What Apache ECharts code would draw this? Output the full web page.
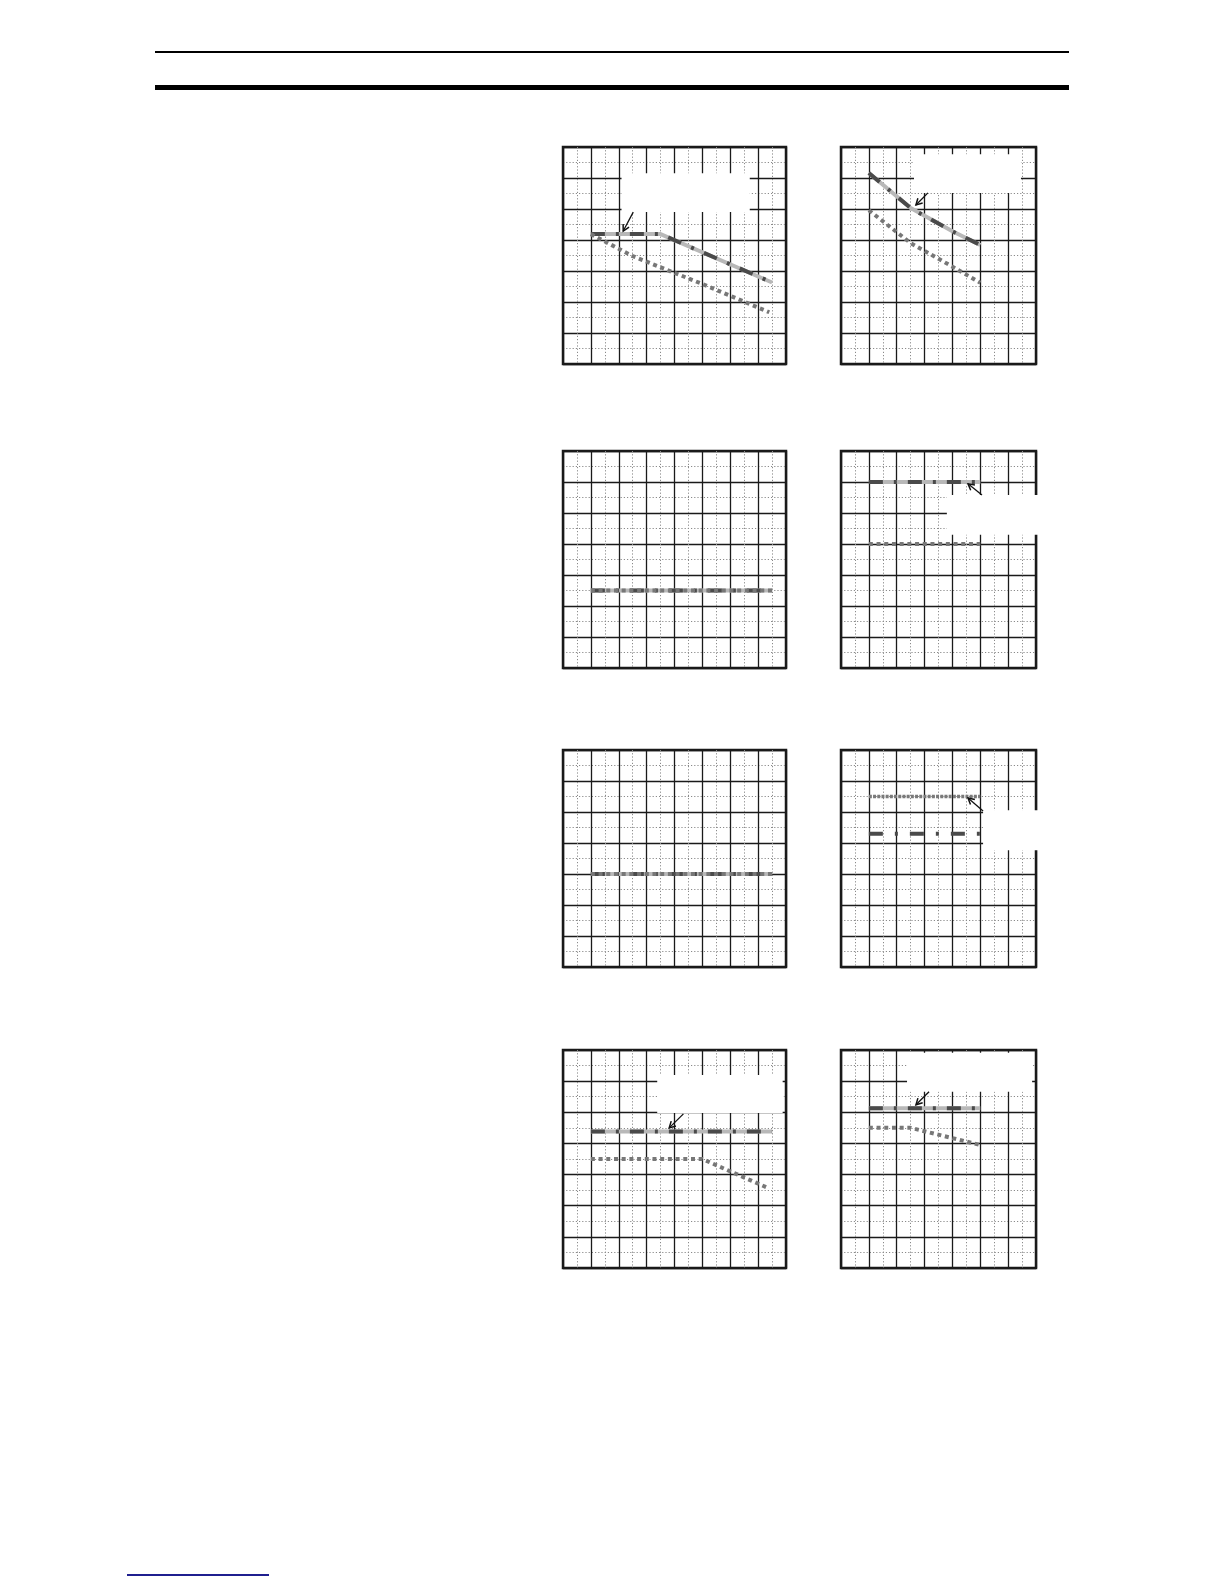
<!DOCTYPE html>
<html lang="en">
<head>
<meta charset="UTF-8">
<title>characteristics</title>
<script src="https://cdn.jsdelivr.net/npm/echarts@6/dist/echarts.min.js"></script>
<style>
    html, body { margin: 0; padding: 0; background: #fff; }
    #main { width: 1224px; height: 1584px; }
</style>
</head>
<body>
<div id="main"></div>
<script>
// curve values, in grid units (x: columns from the left, y: rows from the bottom)
var p1Solid = [[1, 4.19], [3.5, 4.19], [7.5, 2.63]];
var p1Dotted = [[1, 4.19], [2.5, 3.48], [5, 2.58], [7.4, 1.67]];
var p2Solid = [[1, 6.16], [2.5, 5.03], [4, 4.28], [5, 3.84]];
var p2Dotted = [[1, 4.96], [2.5, 3.9], [4, 3.14], [5, 2.62]];
var p3Solid = [[1, 2.5], [7.5, 2.5]];
var p3Dotted = [[1, 2.5], [7.5, 2.5]];
var p4Solid = [[1, 6], [5, 6]];
var p4Dotted = [[1, 4], [5, 4]];
var p5Solid = [[1, 3], [7.5, 3]];
var p5Dotted = [[1, 3], [7.5, 3]];
var p6Upper = [[1, 5.5], [5, 5.5]];
var p6Lower = [[1, 4.3], [5, 4.3]];
var p7Solid = [[1, 4.38], [7.5, 4.38]];
var p7Dotted = [[1, 3.5], [5, 3.5], [7.4, 2.55]];
var p8Solid = [[1, 5.13], [5, 5.13]];
var p8Dotted = [[1, 4.5], [2.5, 4.5], [5, 3.95]];

// axis ranges
var xMax = [8, 7];
var yMax = 7;

// blank label boxes: [panel, x0, y0, x1, y1] in grid units
var boxes = [
    [0, 2.1, 4.9, 6.7, 6.15],
    [1, 2.62, 5.52, 6.46, 6.77],
    [3, 3.8, 4.3, 7.3, 5.58],
    [5, 5.1, 3.77, 7.3, 5.06],
    [6, 3.38, 4.98, 7.88, 6.2],
    [7, 2.37, 5.66, 6.86, 6.91]
];
// pointer arrows: [panel, fromX, fromY, toX, toY]
var arrows = [
    [0, 2.52, 4.9, 2.16, 4.29],
    [1, 3.12, 5.52, 2.69, 5.13],
    [3, 5.06, 5.58, 4.56, 5.94],
    [5, 5.1, 5.03, 4.56, 5.45],
    [6, 4.32, 4.95, 3.81, 4.5],
    [7, 3.16, 5.66, 2.69, 5.24]
];

var colLeft = [563, 841];
var colWidth = [223, 195];
var rowTop = [147, 451, 750, 1050];
var rowHeight = [217, 217, 217, 218];

var chart = echarts.init(document.getElementById('main'));

var grids = [], xAxes = [], yAxes = [], series = [];
for (var i = 0; i < 8; i++) {
    var r = Math.floor(i / 2), c = i % 2;
    grids.push({
        left: colLeft[c], top: rowTop[r], width: colWidth[c], height: rowHeight[r],
        show: true, borderColor: '#1a1a1a', borderWidth: 2.5, backgroundColor: '#fff'
    });
    var axisBase = {
        gridIndex: i, type: 'value', min: 0, interval: 1,
        axisLine: {show: false}, axisTick: {show: false}, axisLabel: {show: false},
        splitLine: {show: true, lineStyle: {color: '#1a1a1a', width: 1.3}},
        minorTick: {show: false, splitNumber: 2},
        minorSplitLine: {show: true, lineStyle: {color: '#8a8a8a', width: 1, type: [1.2, 2]}}
    };
    xAxes.push(Object.assign({}, axisBase, {max: xMax[c]}));
    yAxes.push(Object.assign({}, axisBase, {max: yMax}));
}

function line(i, data, color, width, type, z) {
    return {
        type: 'line', xAxisIndex: i, yAxisIndex: i, data: data,
        symbol: 'none', silent: true, z: z, animation: false,
        lineStyle: {color: color, width: width, type: type, cap: 'butt'}
    };
}
// two tone line = light base + dark dash-dot on top
function twoTone(i, data) {
    series.push(line(i, data, '#b8b8b8', 4, 'solid', 3));
    series.push(line(i, data, '#4a4a4a', 4, [14, 11, 3, 11], 4));
}
function dotted(i, data) {
    series.push(line(i, data, '#777', 4, [4, 3.7], 5));
}

twoTone(0, p1Solid); dotted(0, p1Dotted);
twoTone(1, p2Solid); dotted(1, p2Dotted);
twoTone(2, p3Solid); dotted(2, p3Dotted);
twoTone(3, p4Solid); dotted(3, p4Dotted);
twoTone(4, p5Solid); dotted(4, p5Dotted);
series.push(line(5, p6Upper, '#7a7a7a', 3.5, [3, 1.2], 4));
series.push(line(5, p6Lower, '#4a4a4a', 4, [14, 12, 3, 12], 4));
twoTone(6, p7Solid); dotted(6, p7Dotted);
twoTone(7, p8Solid); dotted(7, p8Dotted);

chart.setOption({
    animation: false,
    grid: grids,
    xAxis: xAxes,
    yAxis: yAxes,
    series: series
});

// page rules, label boxes and arrows
var g = [
    {type: 'rect', shape: {x: 155, y: 51, width: 914, height: 2}, style: {fill: '#000'}},
    {type: 'rect', shape: {x: 155, y: 85, width: 914, height: 5}, style: {fill: '#000'}},
    {type: 'rect', shape: {x: 127, y: 1574, width: 142, height: 2}, style: {fill: '#1f1f8f'}}
];
boxes.forEach(function (b) {
    var a = chart.convertToPixel({gridIndex: b[0]}, [b[1], b[2]]);
    var d = chart.convertToPixel({gridIndex: b[0]}, [b[3], b[4]]);
    g.push({
        type: 'rect', z: 50,
        shape: {x: Math.min(a[0], d[0]), y: Math.min(a[1], d[1]), width: Math.abs(d[0] - a[0]), height: Math.abs(d[1] - a[1])},
        style: {fill: '#fff'}
    });
});
arrows.forEach(function (ar) {
    var p0 = chart.convertToPixel({gridIndex: ar[0]}, [ar[1], ar[2]]);
    var p1 = chart.convertToPixel({gridIndex: ar[0]}, [ar[3], ar[4]]);
    var ang = Math.atan2(p0[1] - p1[1], p0[0] - p1[0]);
    var len = 7, spread = 0.5;
    var w1 = [p1[0] + len * Math.cos(ang + spread), p1[1] + len * Math.sin(ang + spread)];
    var w2 = [p1[0] + len * Math.cos(ang - spread), p1[1] + len * Math.sin(ang - spread)];
    g.push({type: 'line', z: 60, shape: {x1: p0[0], y1: p0[1], x2: p1[0], y2: p1[1]}, style: {stroke: '#111', lineWidth: 1.3}});
    g.push({type: 'polyline', z: 60, shape: {points: [w1, p1, w2]}, style: {stroke: '#111', lineWidth: 1.5, fill: null}});
});
chart.setOption({graphic: g});
</script>
</body>
</html>
